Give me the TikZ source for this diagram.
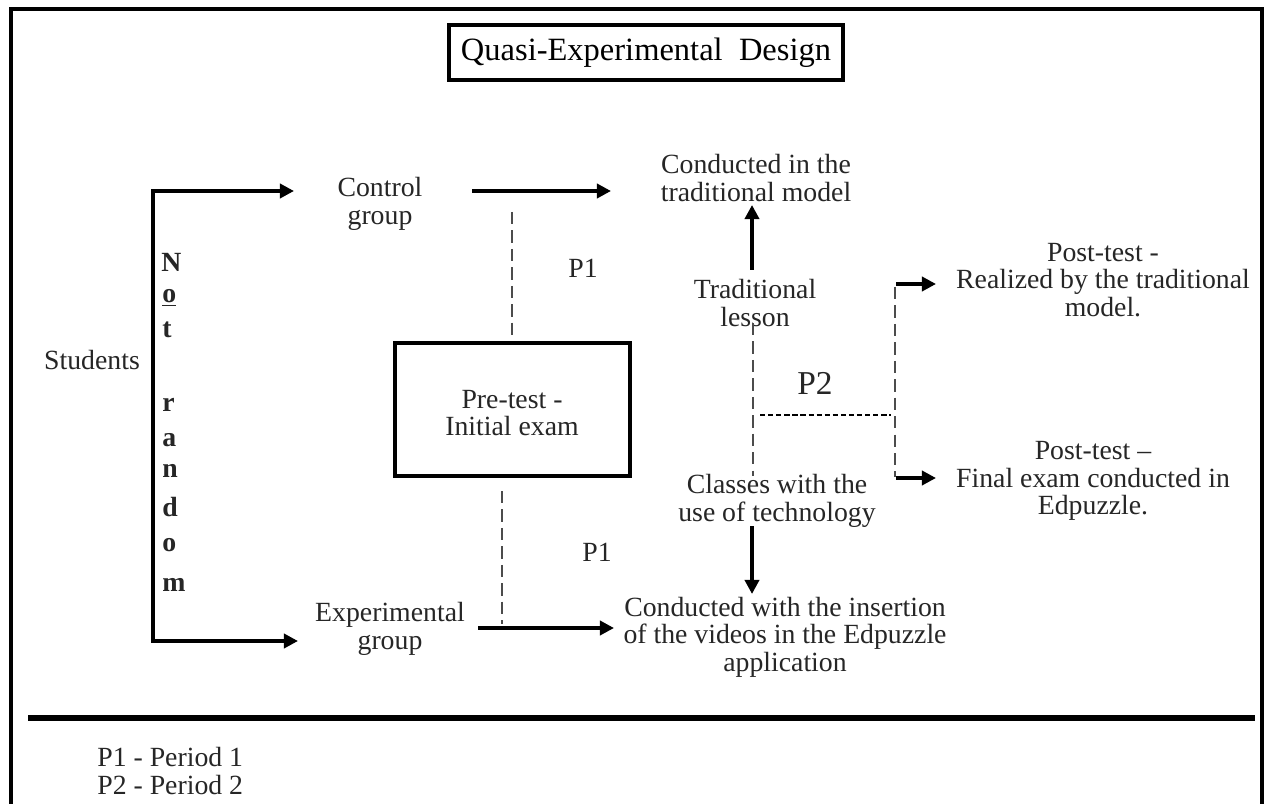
\documentclass[tikz,border=0pt]{standalone}
\usepackage{fontspec}
\setmainfont{Liberation Serif}
\usetikzlibrary{arrows.meta}
\begin{document}
\begin{tikzpicture}[x=0.02cm,y=-0.02cm,
  txt/.style={inner sep=0pt, align=center, text=black!85, font=\fontsize{15.8}{15.6}\selectfont},
  letter/.style={inner sep=0pt, anchor=west, text=black!85, font=\fontsize{15.8}{15.6}\selectfont\bfseries},
  boxnode/.style={draw, line width=2.3pt, inner sep=0pt},
  bigarrow/.style={line width=2.3pt, -{Triangle[length=8pt,width=8pt]}},
  shortarrow/.style={line width=2.6pt, -{Triangle[length=8pt,width=8pt]}},
  thindash/.style={line width=0.6pt, draw=black!70, dash pattern=on 7pt off 3.5pt},
  densedash/.style={line width=1.2pt, draw=black, dash pattern=on 3pt off 1.6pt}
]
\useasboundingbox (0,0) rectangle (1268,804);
\fill[white] (0,0) rectangle (1268,804);
% outer frame
\draw[line width=1.8pt] (11,804) -- (11,9) -- (1262,9) -- (1262,804);
% title
\node[boxnode, minimum width=394*0.02cm, minimum height=55*0.02cm, font=\fontsize{18.5}{20}\selectfont] (title) at (646,52.5) {Quasi-Experimental\ \ Design};
% left part
\node[txt] (students) at (92,360) {Students};
\coordinate (bt) at (153,191);
\coordinate (bb) at (153,641);
\coordinate (ctrlin) at (294,191);
\coordinate (expin) at (298,641);
\draw[line width=2.3pt] (bb) -- (bt);
\draw[bigarrow] ([xshift=-1.1pt]bt) -- (ctrlin);
\draw[bigarrow] ([xshift=-1.1pt]bb) -- (expin);
\node[letter] (l1) at (161,262) {N};
\node[letter] (l2) at (162,298) {\underline{o}};
\node[letter] (l3) at (162,330) {t};
\node[letter] (l4) at (162,405) {r};
\node[letter] (l5) at (162,440) {a};
\node[letter] (l6) at (162,471) {n};
\node[letter] (l7) at (162,507) {d};
\node[letter] (l8) at (162,545) {o};
\node[letter] (l9) at (162,585) {m};
% groups
\node[txt] (ctrl) at (380,204) {Control\\group};
\node[txt] (exp) at (390,629) {Experimental\\group};
% pre-test box
\node[boxnode, minimum width=235*0.02cm, minimum height=133*0.02cm] (pre) at (512.5,409.5) {};
\node[txt] (pretxt) at (512,413) {Pre-test -\\Initial exam};
% P1 arrows
\coordinate (ca1) at (472,191);
\coordinate (ca2) at (611,191);
\draw[bigarrow] (ca1) -- (ca2);
\coordinate (ea1) at (478,628);
\coordinate (ea2) at (614,628);
\draw[bigarrow] (ea1) -- (ea2);
\coordinate (d1a) at (512,212);
\draw[thindash] (d1a) -- (pre.north -| d1a);
\coordinate (d2a) at (502,491);
\coordinate (d2b) at (502,624);
\draw[thindash] (d2a) -- (d2b);
\node[txt] (p1a) at (583,268) {P1};
\node[txt] (p1b) at (597,552) {P1};
% outcomes
\node[txt] (tradmodel) at (756,178) {Conducted in the\\traditional model};
\node[txt] (tradlesson) at (755,303) {Traditional\\lesson};
\node[txt] (tech) at (777,501) {Classes with the\\use of technology};
\node[txt] (edp) at (785,637) {Conducted with the insertion\\of the videos in the Edpuzzle\\application};
\coordinate (up1) at (752,270);
\coordinate (up2) at (752,205);
\draw[bigarrow] (up1) -- (up2);
\coordinate (dn1) at (752,526);
\coordinate (dn2) at (752,594);
\draw[bigarrow] (dn1) -- (dn2);
% P2
\coordinate (v1a) at (753,323);
\coordinate (v1b) at (753,476);
\draw[thindash] (v1a) -- (v1b);
\coordinate (h1) at (760,415);
\coordinate (h2) at (891,415);
\draw[densedash] (h1) -- (h2);
\coordinate (v2a) at (895,287);
\coordinate (v2b) at (895,477);
\draw[thindash] (v2a) -- (v2b);
\node[txt, font=\fontsize{19}{20}\selectfont] (p2) at (815,383) {P2};
\node[txt] (post1) at (1103,280) {Post-test -\\Realized by the traditional\\model.};
\node[txt] (post2) at (1093,481) {Post-test --\\Final exam conducted in\\Edpuzzle.};
\coordinate (pa1) at (896,284);
\coordinate (pa2) at (936,284);
\draw[shortarrow] (pa1) -- (pa2);
\coordinate (pb1) at (896,478);
\coordinate (pb2) at (936,478);
\draw[shortarrow] (pb1) -- (pb2);
% separator and legend
\draw[line width=3.4pt] (28,718) -- (1255,718);
\node[txt, align=left, anchor=west] (legend) at (97,771) {P1 - Period 1\\P2 - Period 2};
\end{tikzpicture}
\end{document}
